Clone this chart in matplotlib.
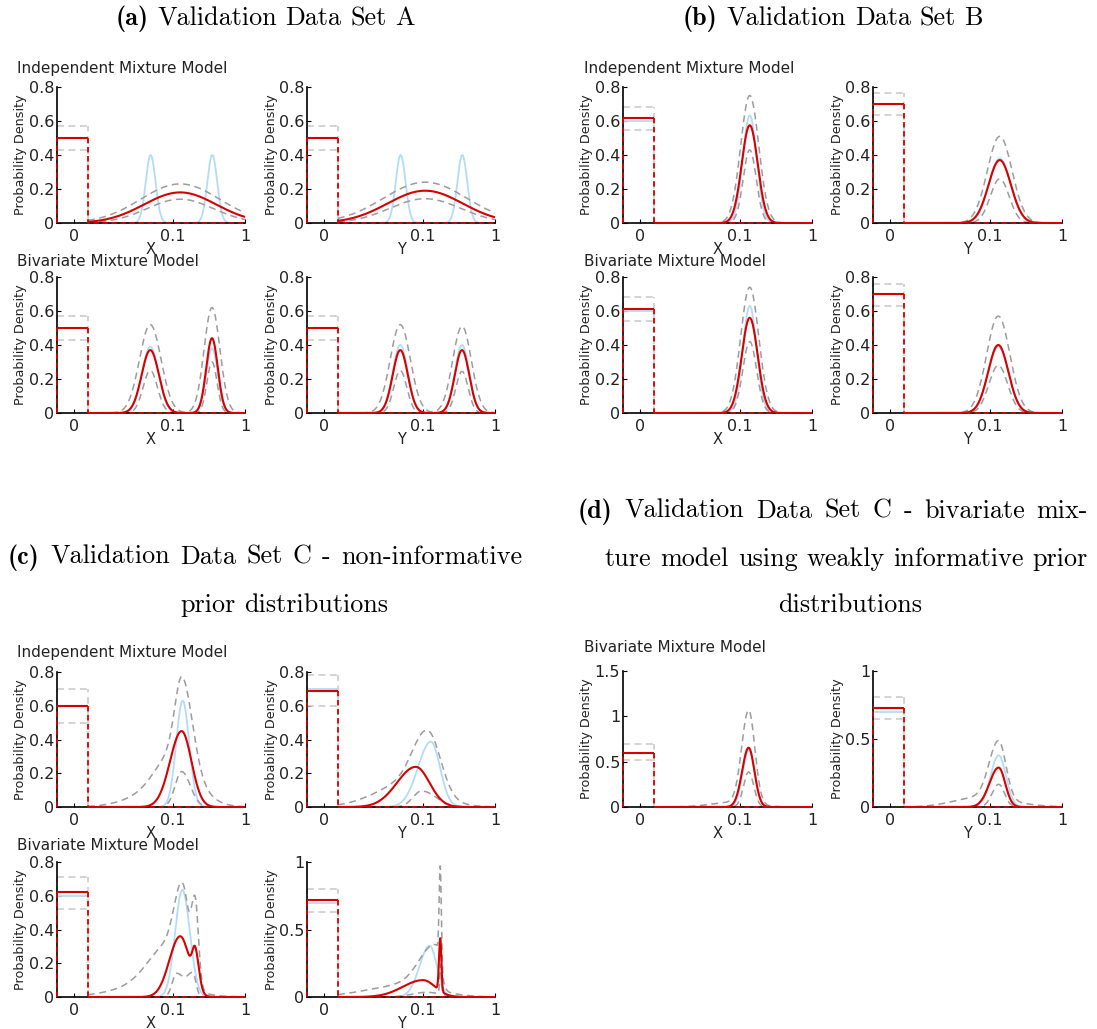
import numpy as np
import matplotlib
matplotlib.use("Agg")
import matplotlib.pyplot as plt

W, H = 1097, 1029
DPI = 100

# ---------------------------------------------------------------------------
# Densities.  Point mass at zero: [true, posterior mean, upper, lower].
# Continuous part: two-sided Gaussian bumps on the log10 scale,
# (centre in log10 units, peak density, left sd, right sd).
# ---------------------------------------------------------------------------
# (a) Validation Data Set A
A_IND_X_MASS = [0.50, 0.50, 0.57, 0.43]
A_IND_X_TRUE = [(-1.31, 0.40, 0.068, 0.068), (-0.454, 0.40, 0.068, 0.068)]
A_IND_X_FIT = [(-0.90, 0.18, 0.50, 0.50)]
A_IND_X_HI = [(-0.90, 0.23, 0.55, 0.55)]
A_IND_X_LO = [(-0.90, 0.14, 0.46, 0.46)]

A_IND_Y_MASS = [0.50, 0.50, 0.57, 0.43]
A_IND_Y_TRUE = [(-1.31, 0.40, 0.068, 0.068), (-0.454, 0.40, 0.068, 0.068)]
A_IND_Y_FIT = [(-0.97, 0.19, 0.52, 0.52)]
A_IND_Y_HI = [(-0.97, 0.24, 0.58, 0.58)]
A_IND_Y_LO = [(-0.97, 0.143, 0.49, 0.49)]

A_BIV_X_MASS = [0.50, 0.50, 0.57, 0.43]
A_BIV_X_TRUE = [(-1.315, 0.39, 0.115, 0.115), (-0.458, 0.38, 0.08, 0.08)]
A_BIV_X_FIT = [(-1.315, 0.37, 0.12, 0.12), (-0.458, 0.44, 0.08, 0.08)]
A_BIV_X_HI = [(-1.315, 0.52, 0.15, 0.15), (-0.458, 0.62, 0.11, 0.11)]
A_BIV_X_LO = [(-1.315, 0.25, 0.10, 0.10), (-0.458, 0.30, 0.07, 0.07)]

A_BIV_Y_MASS = [0.50, 0.50, 0.57, 0.43]
A_BIV_Y_TRUE = [(-1.315, 0.40, 0.105, 0.105), (-0.458, 0.40, 0.10, 0.10)]
A_BIV_Y_FIT = [(-1.315, 0.37, 0.105, 0.105), (-0.458, 0.37, 0.10, 0.10)]
A_BIV_Y_HI = [(-1.315, 0.52, 0.14, 0.14), (-0.458, 0.51, 0.13, 0.13)]
A_BIV_Y_LO = [(-1.315, 0.25, 0.09, 0.09), (-0.458, 0.245, 0.085, 0.085)]

# (b) Validation Data Set B
B_IND_X_MASS = [0.60, 0.615, 0.68, 0.545]
B_IND_X_TRUE = [(-0.86, 0.633, 0.095, 0.095)]
B_IND_X_FIT = [(-0.86, 0.575, 0.11, 0.11)]
B_IND_X_HI = [(-0.86, 0.75, 0.125, 0.125)]
B_IND_X_LO = [(-0.86, 0.43, 0.09, 0.09)]

B_IND_Y_MASS = [0.70, 0.70, 0.765, 0.635]
B_IND_Y_TRUE = [(-0.86, 0.38, 0.15, 0.15)]
B_IND_Y_FIT = [(-0.86, 0.37, 0.155, 0.155)]
B_IND_Y_HI = [(-0.86, 0.51, 0.17, 0.17)]
B_IND_Y_LO = [(-0.86, 0.26, 0.13, 0.13)]

B_BIV_X_MASS = [0.60, 0.61, 0.68, 0.54]
B_BIV_X_TRUE = [(-0.86, 0.63, 0.095, 0.095)]
B_BIV_X_FIT = [(-0.86, 0.56, 0.11, 0.11)]
B_BIV_X_HI = [(-0.86, 0.74, 0.125, 0.125)]
B_BIV_X_LO = [(-0.86, 0.42, 0.095, 0.095)]

B_BIV_Y_MASS = [0.70, 0.70, 0.76, 0.63]
B_BIV_Y_TRUE = [(-0.88, 0.39, 0.14, 0.14)]
B_BIV_Y_FIT = [(-0.88, 0.40, 0.14, 0.14)]
B_BIV_Y_HI = [(-0.88, 0.57, 0.16, 0.16)]
B_BIV_Y_LO = [(-0.88, 0.28, 0.13, 0.13)]

# (c) Validation Data Set C, non-informative priors
C_IND_X_MASS = [0.60, 0.60, 0.70, 0.50]
C_IND_X_TRUE = [(-0.865, 0.63, 0.09, 0.09)]
C_IND_X_FIT = [(-0.88, 0.45, 0.16, 0.136)]
C_IND_X_HI = [(-0.87, 0.50, 0.10, 0.14), (-1.0, 0.25, 0.24, 0.30),
              (-1.3, 0.07, 0.36, 0.45)]
C_IND_X_LO = [(-0.88, 0.21, 0.09, 0.12)]

C_IND_Y_MASS = [0.70, 0.69, 0.78, 0.60]
C_IND_Y_TRUE = [(-0.89, 0.387, 0.18, 0.127)]
C_IND_Y_FIT = [(-1.10, 0.238, 0.26, 0.19)]
C_IND_Y_HI = [(-0.92, 0.33, 0.20, 0.17), (-1.2, 0.14, 0.45, 0.30),
              (-0.9, 0.03, 0.30, 0.35)]
C_IND_Y_LO = [(-1.02, 0.095, 0.12, 0.20)]

C_BIV_X_MASS = [0.60, 0.62, 0.71, 0.52]
C_BIV_X_TRUE = [(-0.87, 0.635, 0.10, 0.105)]
C_BIV_X_FIT = [(-0.90, 0.36, 0.15, 0.13), (-0.69, 0.20, 0.04, 0.05)]
C_BIV_X_HI = [(-0.86, 0.47, 0.11, 0.08), (-1.05, 0.26, 0.28, 0.20),
              (-0.69, 0.47, 0.05, 0.045), (-1.4, 0.06, 0.45, 0.50)]
C_BIV_X_LO = [(-0.95, 0.14, 0.06, 0.12), (-0.72, 0.12, 0.07, 0.04)]

C_BIV_Y_MASS = [0.70, 0.72, 0.80, 0.63]
C_BIV_Y_TRUE = [(-0.907, 0.38, 0.14, 0.10)]
C_BIV_Y_FIT = [(-1.0, 0.125, 0.28, 0.17), (-0.76, 0.39, 0.017, 0.015)]
C_BIV_Y_HI = [(-1.2, 0.09, 0.55, 0.40), (-0.82, 0.33, 0.22, 0.06),
              (-0.76, 0.72, 0.015, 0.015)]
C_BIV_Y_LO = [(-0.95, 0.035, 0.20, 0.20), (-0.755, 0.22, 0.012, 0.012)]

# (d) Validation Data Set C, weakly informative priors
D_BIV_X_MASS = [0.60, 0.60, 0.69, 0.52]
D_BIV_X_TRUE = [(-0.87, 0.63, 0.085, 0.08)]
D_BIV_X_FIT = [(-0.875, 0.654, 0.09, 0.08)]
D_BIV_X_HI = [(-0.875, 1.03, 0.095, 0.085), (-1.1, 0.05, 0.30, 0.30)]
D_BIV_X_LO = [(-0.875, 0.386, 0.07, 0.07)]

D_BIV_Y_MASS = [0.70, 0.73, 0.81, 0.65]
D_BIV_Y_TRUE = [(-0.875, 0.38, 0.11, 0.10)]
D_BIV_Y_FIT = [(-0.875, 0.29, 0.126, 0.09)]
D_BIV_Y_HI = [(-0.875, 0.43, 0.13, 0.10), (-1.15, 0.07, 0.35, 0.45)]
D_BIV_Y_LO = [(-0.875, 0.167, 0.09, 0.08)]

X_TICK_LABELS = ["0", "0.1", "1"]
YTICKS_08 = [0, 0.2, 0.4, 0.6, 0.8]
YTICKS_1 = [0, 0.5, 1]
YTICKS_15 = [0, 0.5, 1, 1.5]

# axis geometry (log10 scale, zero mass drawn in a strip on the left)
X_LEFT = -2.61
ZERO_POS = -2.375
BAR_EDGE = -2.18

RED = "#d40000"
BLUE = "#b4dcf6"
GRAY = "#9c9c9c"
GRAY_LIGHT = "#c8c8c8"

plt.rcParams["font.family"] = ["DejaVu Sans"]


def density(comps, u):
    y = np.zeros_like(u)
    for c, h, sl, sr in comps:
        s = np.where(u < c, sl, sr)
        y += h * np.exp(-0.5 * ((u - c) / s) ** 2)
    return y


fig = plt.figure(figsize=(W / DPI, H / DPI), dpi=DPI)
fig.patch.set_facecolor("white")


def add_axes(l, r, t, b):
    return fig.add_axes([l / W, 1 - b / H, (r - l) / W, (b - t) / H])


def panel(rect, mass, true, fit, hi, lo, yticks, xlab):
    ax = add_axes(*rect)
    ymax = yticks[-1]
    u = np.linspace(BAR_EDGE, 0, 800)
    L = X_LEFT
    kw = dict(clip_on=False, solid_capstyle="butt", dash_capstyle="butt")
    dash = (0, (4.5, 3.0))

    # true density
    ax.plot([L, BAR_EDGE], [mass[0]] * 2, color=BLUE, lw=1.3, zorder=2, **kw)
    ax.plot(u, density(true, u), color=BLUE, lw=1.3, zorder=2, **kw)

    # credible band
    ax.plot([L, L], [0, mass[2]], color=GRAY_LIGHT, lw=1.1, ls=dash, zorder=2.2, **kw)
    ax.plot([BAR_EDGE] * 2, [0, mass[2]], color=GRAY_LIGHT, lw=1.1, ls=dash, zorder=2.2, **kw)
    for m, comps in ((mass[2], hi), (mass[3], lo)):
        ax.plot([L, BAR_EDGE], [m, m], color=GRAY_LIGHT, lw=1.1, ls=dash, zorder=2.2, **kw)
        ax.plot(u, density(comps, u), color=GRAY, lw=1.1, ls=dash, zorder=2.2, **kw)

    # posterior mean
    ax.plot([L, L], [0, mass[1]], color=RED, lw=1.3, ls=(0, (3, 2)), zorder=3, **kw)
    ax.plot([BAR_EDGE, BAR_EDGE, 0], [mass[1], 0, 0], color=RED, lw=1.3,
            ls=(0, (3, 2)), zorder=3, **kw)
    ax.plot([L, BAR_EDGE], [mass[1]] * 2, color=RED, lw=1.5, zorder=3.2, **kw)
    ax.plot(u, density(fit, u), color=RED, lw=1.5, zorder=3.2, **kw)

    ax.set_xlim(X_LEFT, 0)
    ax.set_ylim(0, ymax)
    for s in ("top", "right"):
        ax.spines[s].set_visible(False)
    for s in ("left", "bottom"):
        ax.spines[s].set_linewidth(1.2)
        ax.spines[s].set_color("black")
    ax.set_xticks([ZERO_POS, -1, 0])
    ax.set_xticklabels(X_TICK_LABELS)
    ax.set_yticks(yticks)
    ax.set_yticklabels(["%g" % v for v in yticks])
    ax.tick_params(direction="in", length=3, width=0.8, labelsize=11.5,
                   colors="black", labelcolor="#222222")
    ax.tick_params(axis="y", pad=2)
    ax.tick_params(axis="x", pad=4)
    ax.patch.set_alpha(0)
    w = rect[1] - rect[0]
    h = rect[3] - rect[2]
    ax.text(-36 / w, 0.5, "Probability Density", rotation=90, ha="center",
            va="center", fontsize=9.2, transform=ax.transAxes, color="#222222")
    ax.text(0.5, -26 / h, xlab, ha="center", va="center", fontsize=10.5,
            transform=ax.transAxes, color="#222222")
    return ax


# ---- panels ----
panel((57, 245, 87, 223), A_IND_X_MASS, A_IND_X_TRUE, A_IND_X_FIT, A_IND_X_HI, A_IND_X_LO, YTICKS_08, "X")
panel((307, 495, 87, 223), A_IND_Y_MASS, A_IND_Y_TRUE, A_IND_Y_FIT, A_IND_Y_HI, A_IND_Y_LO, YTICKS_08, "Y")
panel((57, 245, 277, 413), A_BIV_X_MASS, A_BIV_X_TRUE, A_BIV_X_FIT, A_BIV_X_HI, A_BIV_X_LO, YTICKS_08, "X")
panel((307, 495, 277, 413), A_BIV_Y_MASS, A_BIV_Y_TRUE, A_BIV_Y_FIT, A_BIV_Y_HI, A_BIV_Y_LO, YTICKS_08, "Y")

panel((623, 812, 87, 223), B_IND_X_MASS, B_IND_X_TRUE, B_IND_X_FIT, B_IND_X_HI, B_IND_X_LO, YTICKS_08, "X")
panel((873, 1062, 87, 223), B_IND_Y_MASS, B_IND_Y_TRUE, B_IND_Y_FIT, B_IND_Y_HI, B_IND_Y_LO, YTICKS_08, "Y")
panel((623, 812, 277, 413), B_BIV_X_MASS, B_BIV_X_TRUE, B_BIV_X_FIT, B_BIV_X_HI, B_BIV_X_LO, YTICKS_08, "X")
panel((873, 1062, 277, 413), B_BIV_Y_MASS, B_BIV_Y_TRUE, B_BIV_Y_FIT, B_BIV_Y_HI, B_BIV_Y_LO, YTICKS_08, "Y")

panel((57, 245, 672, 807), C_IND_X_MASS, C_IND_X_TRUE, C_IND_X_FIT, C_IND_X_HI, C_IND_X_LO, YTICKS_08, "X")
panel((307, 495, 672, 807), C_IND_Y_MASS, C_IND_Y_TRUE, C_IND_Y_FIT, C_IND_Y_HI, C_IND_Y_LO, YTICKS_08, "Y")
panel((57, 245, 862, 997), C_BIV_X_MASS, C_BIV_X_TRUE, C_BIV_X_FIT, C_BIV_X_HI, C_BIV_X_LO, YTICKS_08, "X")
panel((307, 495, 862, 997), C_BIV_Y_MASS, C_BIV_Y_TRUE, C_BIV_Y_FIT, C_BIV_Y_HI, C_BIV_Y_LO, YTICKS_1, "Y")

panel((623, 812, 671, 807), D_BIV_X_MASS, D_BIV_X_TRUE, D_BIV_X_FIT, D_BIV_X_HI, D_BIV_X_LO, YTICKS_15, "X")
panel((873, 1062, 671, 807), D_BIV_Y_MASS, D_BIV_Y_TRUE, D_BIV_Y_FIT, D_BIV_Y_HI, D_BIV_Y_LO, YTICKS_1, "Y")

# ---- model headings ----
for x, y, s in [(17, 69, "Independent Mixture Model"), (17, 262, "Bivariate Mixture Model"),
                (584, 69, "Independent Mixture Model"), (584, 262, "Bivariate Mixture Model"),
                (17, 653, "Independent Mixture Model"), (17, 845, "Bivariate Mixture Model"),
                (584, 648, "Bivariate Mixture Model")]:
    fig.text(x / W, 1 - y / H, s, ha="left", va="center", fontsize=11, color="#222222")

# ---- captions (Computer Modern, justified) ----
renderer = fig.canvas.get_renderer()
CAP_SIZE = 18.8


def word_artist(word, bold):
    fam = "cmb10" if bold else "cmr10"
    return fig.text(0, 0, word, fontsize=CAP_SIZE, family=fam, ha="left",
                    va="baseline", color="black")


def caption_line(words, y_center, x0=None, x1=None, cx=None):
    arts = [word_artist(w, i == 0 and w.startswith("(")) for i, w in enumerate(words)]
    widths = [a.get_window_extent(renderer).width for a in arts]
    space = 0.333 * CAP_SIZE * DPI / 72
    if cx is None:
        gap = (x1 - x0 - sum(widths)) / max(len(words) - 1, 1)
        start = x0
    else:
        gap = space
        start = cx - (sum(widths) + gap * (len(words) - 1)) / 2
    base = y_center + 6
    x = start
    for a, w in zip(arts, widths):
        a.set_position((x / W, 1 - base / H))
        x += w + gap


caption_line("(a) Validation Data Set A".split(), 19, cx=265)
caption_line("(b) Validation Data Set B".split(), 19, cx=833)
caption_line("(c) Validation Data Set C - non-informative".split(), 558, x0=8, x1=522)
caption_line("prior distributions".split(), 606, cx=284)
caption_line("(d) Validation Data Set C - bivariate mix-".split(), 512, x0=578, x1=1088)
caption_line("ture model using weakly informative prior".split(), 560, x0=605, x1=1088)
caption_line("distributions".split(), 606, cx=850)

fig.savefig("out.png", dpi=DPI, facecolor="white")
